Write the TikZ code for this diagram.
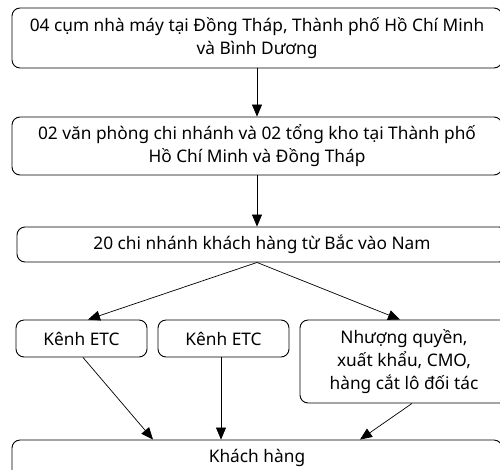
\documentclass[tikz,border=0pt]{standalone}
\usepackage{fontspec}
\setmainfont{Noto Sans}
\usetikzlibrary{arrows.meta,calc}
\begin{document}
\begin{tikzpicture}[x=1pt,y=-1pt,
  box/.style={draw,line width=0.9pt,rounded corners=8pt,align=center,inner sep=0pt,font=\fontsize{17.3}{23}\selectfont},
  conn/.style={line width=0.7pt,-{Triangle[length=12pt,width=10pt]}}]
\useasboundingbox (0,0) rectangle (500,469);
\clip (0,0) rectangle (500,469);
\node[box,minimum width=490pt,minimum height=60pt] (b1) at (257,38) {04 cụm nhà máy tại Đồng Tháp, Thành phố Hồ Chí Minh\\và Bình Dương};
\node[box,minimum width=490pt,minimum height=58pt] (b2) at (257,146) {02 văn phòng chi nhánh và 02 tổng kho tại Thành phố\\Hồ Chí Minh và Đồng Tháp};
\node[box,minimum width=490pt,minimum height=35pt] (b3) at (262,244.5) {20 chi nhánh khách hàng từ Bắc vào Nam};
\node[box,minimum width=131pt,minimum height=37pt] (ka) at (81.5,338.5) {Kênh ETC};
\node[box,minimum width=131pt,minimum height=37pt] (kb) at (223.5,338.5) {Kênh ETC};
\node[box,minimum width=208pt,minimum height=83pt] (kc) at (404,361.5) {Nhượng quyền,\\xuất khẩu, CMO,\\hàng cắt lô đối tác};
\node[box,minimum width=490pt,minimum height=60pt] (kh) at (257,470) {};
\node[font=\fontsize{17.3}{23}\selectfont] (khl) at (257,458) {Khách hàng};
\draw[conn] (b1.south) -- (b2.north);
\draw[conn] (b1.south |- b2.south) -- (b1.south |- b3.north);
\coordinate (b3s) at ($(b1.south |- b3.south)$);
\draw[conn] (b3s) -- ($(ka.north)+(6.5,0)$);
\draw[conn] (b3s) -- ($(kc.north)+(-4,0)$);
\draw[conn] ($(ka.south)+(1.5,0)$) -- ($(kh.north)+(-104,0)$);
\draw[conn] ($(kb.south)+(-2.5,0)$) -- ($(kh.north)+(-36,0)$);
\draw[conn] ($(kc.south)+(8,0)$) -- ($(kh.north)+(103,0)$);
\end{tikzpicture}
\end{document}
